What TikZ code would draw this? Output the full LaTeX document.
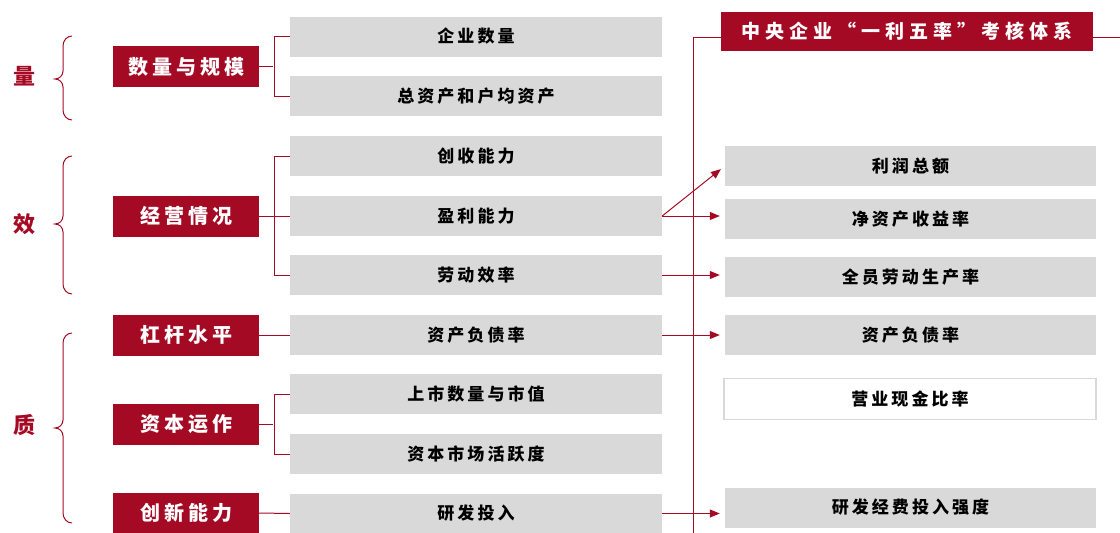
\documentclass[tikz,border=0pt]{standalone}
\usepackage{fontspec}
\setmainfont{Liberation Serif}
\newfontfamily\cjk[LetterSpace=18]{Noto Sans CJK SC}
\newfontfamily\cjkr[LetterSpace=20]{Noto Sans CJK SC}
\newfontfamily\cjkh[LetterSpace=26]{Noto Sans CJK SC}
\usetikzlibrary{arrows.meta}
\definecolor{dred}{HTML}{A50A24}
\definecolor{lgray}{HTML}{D9D9D9}
\begin{document}
\begin{tikzpicture}[x=1pt,y=-1pt,
  redbox/.style={fill=dred,text=white,minimum width=146pt,minimum height=41pt,inner sep=0pt,font=\cjkr\fontsize{20}{20}\selectfont\bfseries},
  graybox/.style={fill=lgray,minimum width=372pt,minimum height=40pt,inner sep=0pt,font=\cjk\fontsize{17}{17}\selectfont\bfseries},
  rgraybox/.style={fill=lgray,minimum width=371pt,minimum height=40pt,inner sep=0pt,font=\cjk\fontsize{17}{17}\selectfont\bfseries},
  whitebox/.style={draw=lgray,line width=1.2pt,fill=white,minimum width=372pt,minimum height=41pt,inner sep=0pt,font=\cjk\fontsize{17}{17}\selectfont\bfseries},
  hdrbox/.style={fill=dred,text=white,minimum width=372pt,minimum height=39pt,inner sep=0pt,font=\cjkh\fontsize{19}{19}\selectfont\bfseries},
  biglab/.style={text=dred,font=\cjk\fontsize{22}{22}\selectfont\bfseries},
  ln/.style={draw=dred,line width=1pt},
  arr/.style={ln,-{Triangle[length=10pt,width=8pt]},shorten >=5pt},
  brc/.style={draw=dred,line width=1pt}]
\useasboundingbox (0,0) rectangle (1120,533);
% big labels
\node[biglab] (q1) at (24,76) {量};
\node[biglab] (q2) at (24,224) {效};
\node[biglab] (q3) at (24,425) {质};
% braces
\draw[brc] (72,36) to[out=180,in=90] (63,46) -- (63,71) to[out=-90,in=0] (55,79) to[out=0,in=90] (63,87) -- (63,110) to[out=-90,in=180] (72,120);
\draw[brc] (72,156) to[out=180,in=90] (63,166) -- (63,216) to[out=-90,in=0] (55,224) to[out=0,in=90] (63,232) -- (63,284) to[out=-90,in=180] (72,294);
\draw[brc] (72,333) to[out=180,in=90] (63,343) -- (63,420) to[out=-90,in=0] (55,428) to[out=0,in=90] (63,436) -- (63,513) to[out=-90,in=180] (72,523);
% red boxes
\node[redbox] (r1) at (186,66.5) {数量与规模};
\node[redbox] (r2) at (186,216) {经营情况};
\node[redbox] (r3) at (186,335) {杠杆水平};
\node[redbox] (r4) at (186,424) {资本运作};
\node[redbox] (r5) at (186,513) {创新能力};
% gray boxes
\node[graybox] (g1) at (476,36.5) {企业数量};
\node[graybox] (g2) at (476,96) {总资产和户均资产};
\node[graybox] (g3) at (476,156) {创收能力};
\node[graybox] (g4) at (476,216) {盈利能力};
\node[graybox] (g5) at (476,275) {劳动效率};
\node[graybox] (g6) at (476,335) {资产负债率};
\node[graybox] (g7) at (476,394) {上市数量与市值};
\node[graybox] (g8) at (476,454) {资本市场活跃度};
\node[graybox] (g9) at (476,513.5) {研发投入};
% header and right boxes
\node[hdrbox] (h) at (907,31.5) {中央企业“一利五率”考核体系};
\node[rgraybox] (t1) at (910.5,166) {利润总额};
\node[rgraybox] (t2) at (910.5,219) {净资产收益率};
\node[rgraybox] (t3) at (910.5,277) {全员劳动生产率};
\node[rgraybox] (t4) at (910.5,335) {资产负债率};
\node[whitebox] (t5) at (910,399) {营业现金比率};
\node[rgraybox] (t6) at (910.5,507.5) {研发经费投入强度};
% brackets left
\coordinate (b1) at (273,66.5);
\draw[ln] (r1.east) -- (b1);
\draw[ln] (g1.west) -- ++(-15,0) |- (g2.west);
\draw[ln] (r2.east) -- (r2.east -| b1);
\draw[ln] (g3.west) -- ++(-15,0) |- (g5.west);
\draw[ln] (g4.west) -- (r2.east -| b1);
\draw[ln] (r3.east) -- (g6.west);
\draw[ln] (r4.east) -- (r4.east -| b1);
\draw[ln] (g7.west) -- ++(-15,0) |- (g8.west);
\draw[ln] (r5.east) -- (g9.west);
% right spine
\coordinate (sp) at (693,37);
\coordinate (spb) at (693,533);
\coordinate (re) at (1120,37);
\draw[ln] (sp -| h.west) -- (sp) -- (spb);
\draw[ln] (sp -| h.east) -- (re);
% arrows
\draw[arr] (g4.east) -- (t1.west);
\draw[arr] (g4.east) -- (g4.east -| t2.west);
\draw[arr] (g5.east) -- (g5.east -| t3.west);
\draw[arr] (g6.east) -- (t4.west);
\draw[arr] (g9.east) -- (g9.east -| t6.west);
\end{tikzpicture}
\end{document}
